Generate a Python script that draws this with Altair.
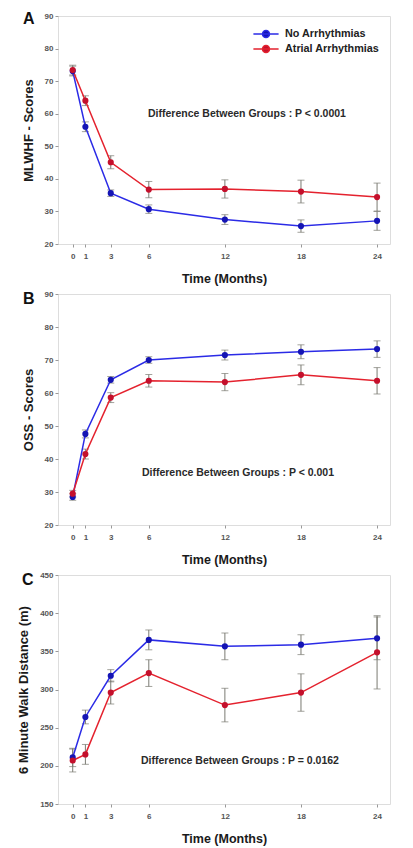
import altair as alt
import pandas as pd

months = [0, 1, 3, 6, 12, 18, 24]
groups = ["No Arrhythmias", "Atrial Arrhythmias"]

# Panel A: MLWHF scores
mlwhf_no = [73.1, 56.0, 35.6, 30.7, 27.5, 25.5, 27.1]
mlwhf_no_err = [1.5, 1.5, 1.0, 1.3, 1.5, 1.9, 2.9]
mlwhf_af = [73.4, 64.0, 45.1, 36.7, 36.9, 36.1, 34.4]
mlwhf_af_err = [1.5, 1.5, 2.0, 2.5, 2.8, 3.5, 4.3]

# Panel B: OSS scores
oss_no = [28.5, 47.6, 64.0, 70.0, 71.5, 72.5, 73.3]
oss_no_err = [1.0, 1.2, 1.0, 1.0, 1.5, 2.1, 2.5]
oss_af = [29.5, 41.5, 58.6, 63.7, 63.3, 65.5, 63.7]
oss_af_err = [1.0, 1.5, 1.5, 1.9, 2.6, 3.0, 4.0]

# Panel C: 6 minute walk distance
walk_no = [211, 264, 318, 365, 356.5, 358.7, 367]
walk_no_err = [12, 9, 8, 13, 17.5, 13, 28]
walk_af = [207, 215, 296, 321.5, 279.6, 296, 348.7]
walk_af_err = [15, 13, 15, 17.5, 22, 24.5, 48]

ticks_score = [20, 30, 40, 50, 60, 70, 80, 90]
ticks_walk = [150, 200, 250, 300, 350, 400, 450]

FONT = "Liberation Sans"
LINE_COLORS = ["#2b2be6", "#e4222e"]
POINT_COLORS = ["#1414b4", "#c4102c"]
ERR_COLOR = "#7a7a72"
SYMBOL = "M-1.8,0L1.8,0M-0.5,0A0.5,0.5,0,1,1,0.5,0A0.5,0.5,0,1,1,-0.5,0Z"


def long_df(no, no_err, af, af_err):
    rows = []
    for g, vals, errs in ((groups[0], no, no_err), (groups[1], af, af_err)):
        for m, v, e in zip(months, vals, errs):
            rows.append({"month": m, "group": g, "value": v, "lo": v - e, "hi": v + e})
    return pd.DataFrame(rows)


def panel(df, ytitle, ydomain, yticks, letter, letter_xy, note, note_xy,
          legend_xy, width, height):
    xaxis = alt.Axis(values=months, title="Time (Months)", titleFont=FONT,
                     titleFontSize=12.5, titleFontWeight="bold", titleColor="#1a1a1a",
                     titlePadding=12, labelFont=FONT, labelFontSize=8,
                     labelFontWeight="bold", labelColor="#555", labelPadding=5,
                     tickSize=3, tickColor="#999", domain=False, grid=False,
                     labelFlush=False)
    yaxis = alt.Axis(values=yticks, title=ytitle, titleFont=FONT, titleFontSize=13,
                     titleFontWeight="bold", titleColor="#1a1a1a", titlePadding=9,
                     labelFont=FONT, labelFontSize=8, labelFontWeight="bold",
                     labelColor="#555", labelPadding=2, tickSize=3, tickColor="#999",
                     domain=False, grid=False)
    xs = alt.Scale(domain=[-1.16, 25.02], nice=False, zero=False)
    ys = alt.Scale(domain=ydomain, nice=False, zero=False)

    def X():
        return alt.X("month:Q", scale=xs, axis=xaxis)

    def Y(field):
        return alt.Y(field, scale=ys, axis=yaxis)

    base = alt.Chart(df)
    leg = alt.Legend(title=None, orient="none", legendX=legend_xy[0],
                     legendY=legend_xy[1], symbolType=SYMBOL, symbolSize=196,
                     symbolStrokeWidth=1.5, labelFont=FONT, labelFontSize=10.8,
                     labelFontWeight="bold", labelColor="#222", labelOffset=11,
                     rowPadding=0, padding=0)
    err = base.mark_rule(color=ERR_COLOR, strokeWidth=1).encode(
        x=X(), y=Y("lo:Q"), y2="hi:Q")
    cap_lo = base.mark_tick(color=ERR_COLOR, orient="horizontal", size=7,
                            thickness=1).encode(x=X(), y=Y("lo:Q"))
    cap_hi = base.mark_tick(color=ERR_COLOR, orient="horizontal", size=7,
                            thickness=1).encode(x=X(), y=Y("hi:Q"))
    line = base.mark_line(strokeWidth=1.5).encode(
        x=X(), y=Y("value:Q"),
        stroke=alt.Stroke("group:N", scale=alt.Scale(domain=groups, range=LINE_COLORS),
                          legend=leg))
    pts = base.mark_point(filled=True, size=38, opacity=1).encode(
        x=X(), y=Y("value:Q"),
        fill=alt.Fill("group:N", scale=alt.Scale(domain=groups, range=POINT_COLORS),
                      legend=leg))
    txt = alt.Chart(pd.DataFrame({"t": [note]})).mark_text(
        font=FONT, fontSize=10.5, fontWeight="bold", color="#2a2a2a",
        align="center", baseline="middle").encode(
        text="t:N", x=alt.value(note_xy[0]), y=alt.value(note_xy[1]))
    lab = alt.Chart(pd.DataFrame({"t": [letter]})).mark_text(
        font=FONT, fontSize=16, fontWeight="bold", color="#111",
        align="left", baseline="alphabetic").encode(
        text="t:N", x=alt.value(letter_xy[0]), y=alt.value(letter_xy[1]))
    return alt.layer(err, cap_lo, cap_hi, line, pts, txt, lab).properties(
        width=width, height=height)


a = panel(long_df(mlwhf_no, mlwhf_no_err, mlwhf_af, mlwhf_af_err),
          "MLWHF - Scores", [20, 90], ticks_score, "A", (-35, 8),
          "Difference Between Groups : P < 0.0001", (189, 98), (200, 10), 332, 228)
b = panel(long_df(oss_no, oss_no_err, oss_af, oss_af_err),
          "OSS - Scores", [20, 90], ticks_score, "B", (-35, 10),
          "Difference Between Groups : P < 0.001", (180, 179), (19, 13.5), 332, 231)
c = panel(long_df(walk_no, walk_no_err, walk_af, walk_af_err),
          "6 Minute Walk Distance (m)", [150, 450], ticks_walk, "C", (-36, 10),
          "Difference Between Groups : P = 0.0162", (182, 186), (23.5, 11.5), 332, 229)

chart = alt.vconcat(a, b, c, spacing=4).properties(
    padding={"left": 9, "top": 2, "right": 2, "bottom": 5}
).configure_view(stroke="#8a8a8a", strokeWidth=1).configure(font=FONT)

chart.save("out.html", embed_options={"renderer": "svg", "actions": False})
